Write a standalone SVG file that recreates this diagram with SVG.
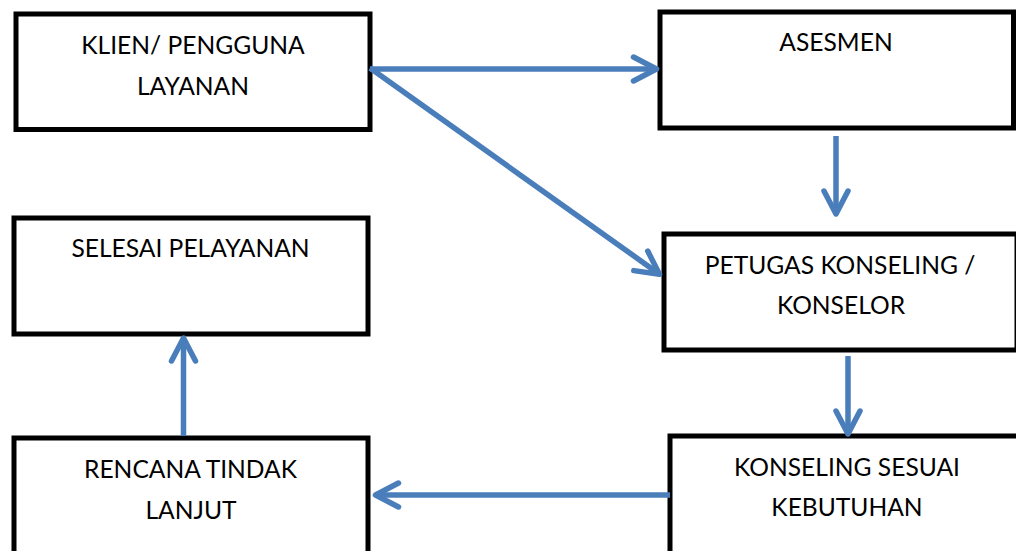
<svg xmlns="http://www.w3.org/2000/svg" width="1016" height="551" viewBox="0 0 1016 551">
<style>
.box{fill:#fff;stroke:#000;stroke-width:5}
.lbl{font-family:Lato,"Liberation Sans",sans-serif;font-size:24.6px;fill:#000;text-anchor:middle}
.con{fill:none;stroke:#4A7EBB;stroke-width:5.5;stroke-linecap:butt}
</style>
<defs>
<marker id="ah" markerUnits="userSpaceOnUse" viewBox="-30 -20 40 40" markerWidth="40" markerHeight="40" refX="0" refY="0" orient="auto" overflow="visible">
<path d="M-23,-12 L0,0 L-23,12" fill="none" stroke="#4A7EBB" stroke-width="5.5" stroke-linecap="round" stroke-linejoin="round"/>
</marker>
</defs>
<rect width="1016" height="551" fill="#fff"/>
<g id="klien"><rect class="box" x="16" y="14" width="354" height="115.5"/><text class="lbl" x="193" y="54">KLIEN/ PENGGUNA</text><text class="lbl" x="193" y="95">LAYANAN</text></g>
<g id="asesmen"><rect class="box" x="660" y="12" width="353.5" height="116"/><text class="lbl" x="836" y="51">ASESMEN</text></g>
<g id="petugas"><rect class="box" x="664" y="234" width="353" height="116"/><text class="lbl" x="840" y="274">PETUGAS KONSELING /</text><text class="lbl" x="841" y="314">KONSELOR</text></g>
<g id="konseling"><rect class="box" x="670" y="436" width="353" height="130"/><text class="lbl" x="847" y="476">KONSELING SESUAI</text><text class="lbl" x="847" y="516">KEBUTUHAN</text></g>
<g id="selesai"><rect class="box" x="14" y="218" width="354" height="116"/><text class="lbl" x="190.5" y="257">SELESAI PELAYANAN</text></g>
<g id="rencana"><rect class="box" x="14" y="438" width="354" height="130"/><text class="lbl" x="190.5" y="477.5">RENCANA TINDAK</text><text class="lbl" x="191" y="519">LANJUT</text></g>
<g id="connectors">
<line class="con" x1="370" y1="69" x2="656.5" y2="69" marker-end="url(#ah)"/>
<line class="con" x1="370" y1="68" x2="659.5" y2="274.2" marker-end="url(#ah)"/>
<line class="con" x1="836" y1="136" x2="836" y2="214" marker-end="url(#ah)"/>
<line class="con" x1="848" y1="356" x2="848" y2="434" marker-end="url(#ah)"/>
<line class="con" x1="670" y1="495" x2="375.5" y2="495" marker-end="url(#ah)"/>
<line class="con" x1="183.5" y1="436" x2="183.5" y2="338" marker-end="url(#ah)"/>
</g>
</svg>
